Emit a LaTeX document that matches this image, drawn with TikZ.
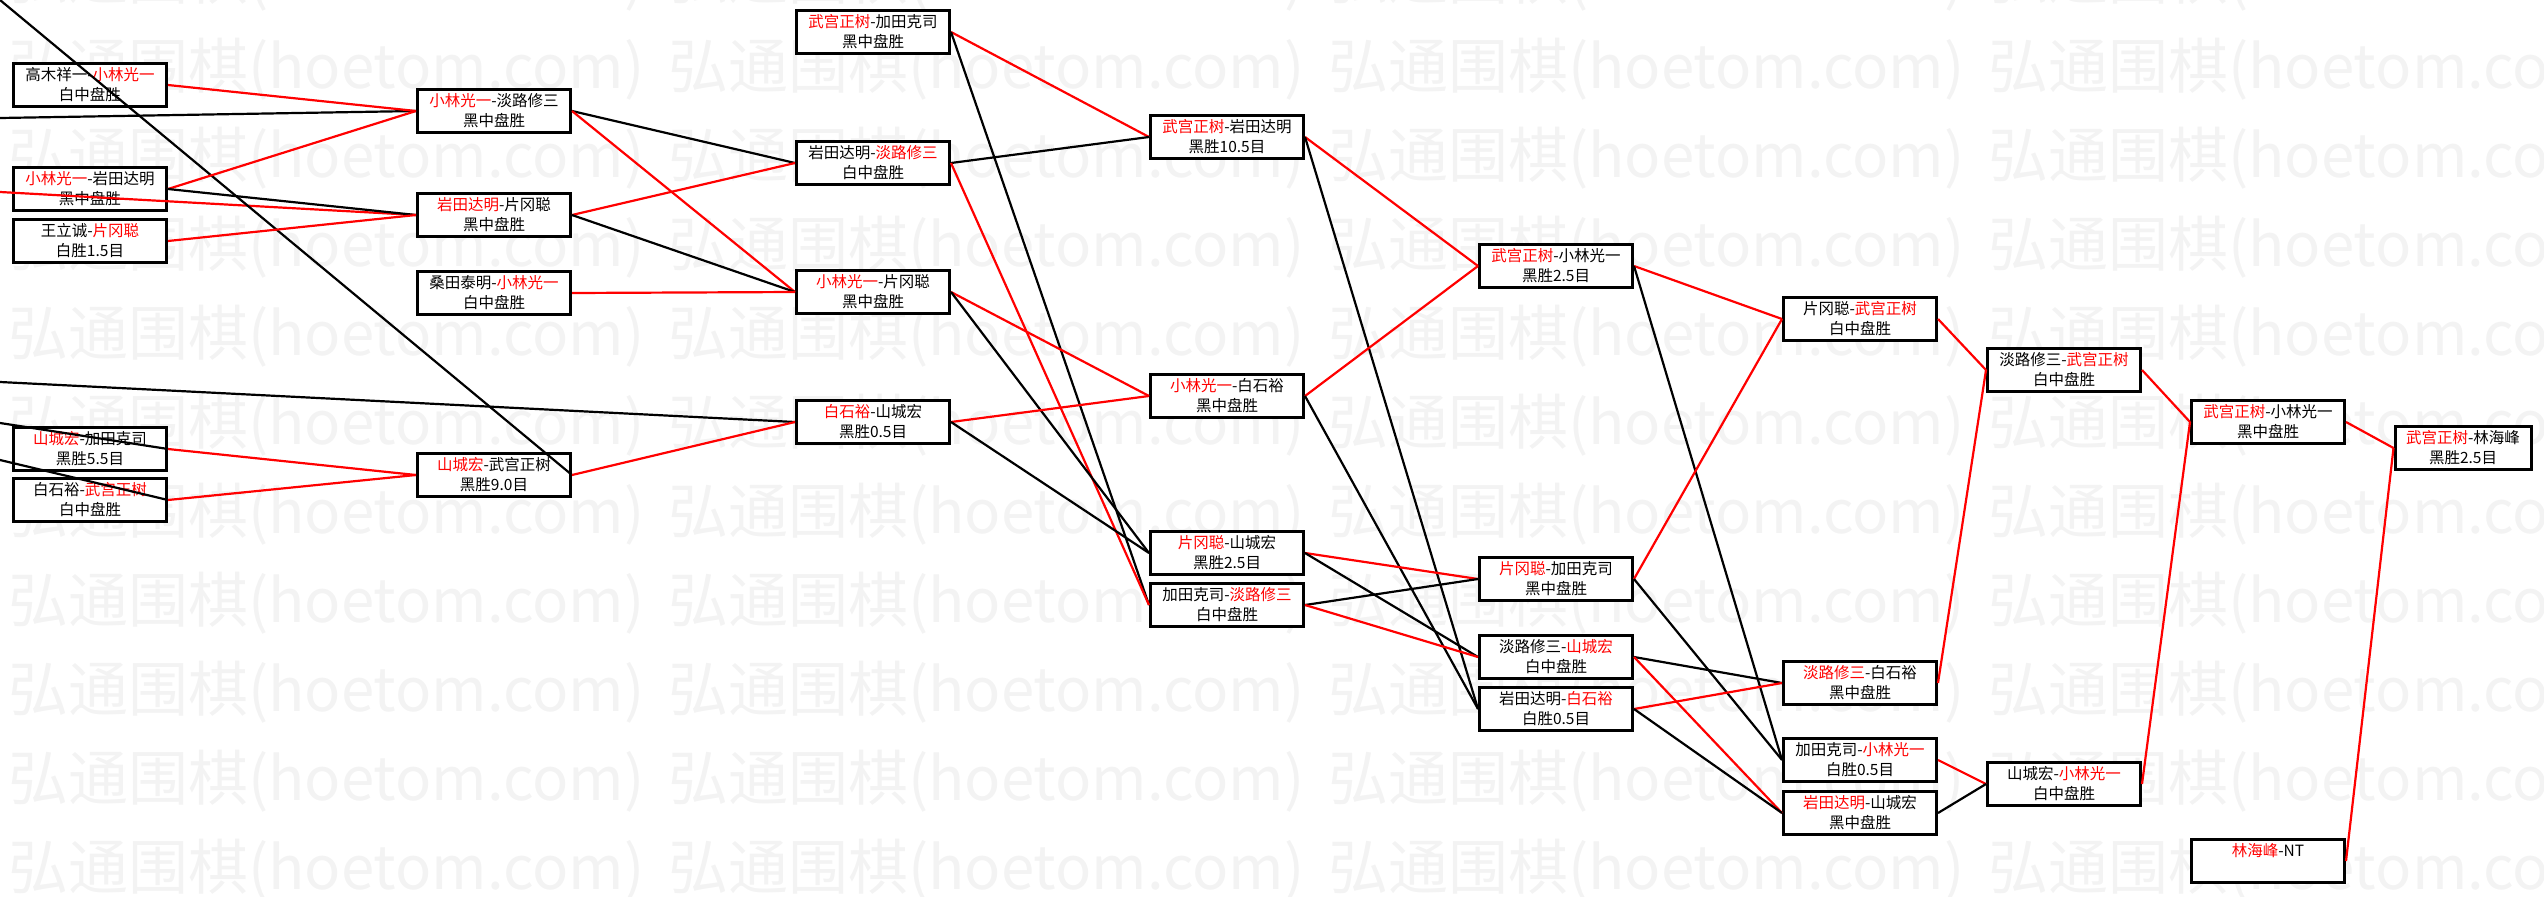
\documentclass[tikz,border=0pt]{standalone}
\usepackage{fontspec}
\setmainfont{Noto Sans CJK SC}
\tikzset{
  >=latex,
}
\definecolor{wmgray}{RGB}{243,243,243}
\newcommand{\wn}[1]{\textcolor{red}{#1}}
\tikzstyle{game}=[draw,fill=white,line width=3pt,minimum width=153pt,minimum height=43pt,inner sep=0pt,align=center,font=\fontsize{15.5}{20}\selectfont]
\tikzstyle{win}=[red,line width=2.2pt]
\tikzstyle{loss}=[black,line width=2.2pt]
\tikzstyle{wmark}=[wmgray,anchor=west,inner sep=0pt,font=\fontsize{60}{60}\selectfont]

\begin{document}
\begin{tikzpicture}[x=1pt,y=-1pt]
    \useasboundingbox (0,0) rectangle (2544,897);
    \begin{scope}
      \clip (0,0) rectangle (2544,897);
      \foreach \y in {-20,69,...,870}
        \foreach \x in {8,668,...,1988}
          \node[wmark] (wm-\x-\y) at (\x,\y) {弘通围棋(hoetom.com)};
    \end{scope}
    % round 1
    \node[game] (a1) at (90,85) {高木祥一-\wn{小林光一}\\白中盘胜};
    \node[game] (a2) at (90,189) {\wn{小林光一}-岩田达明\\黑中盘胜};
    \node[game] (a3) at (90,241) {王立诚-\wn{片冈聪}\\白胜1.5目};
    \node[game] (a4) at (90,449) {\wn{山城宏}-加田克司\\黑胜5.5目};
    \node[game] (a5) at (90,500) {白石裕-\wn{武宫正树}\\白中盘胜};
    % round 2
    \node[game] (b1) at (494,111) {\wn{小林光一}-淡路修三\\黑中盘胜};
    \node[game] (b2) at (494,215) {\wn{岩田达明}-片冈聪\\黑中盘胜};
    \node[game] (b3) at (494,293) {桑田泰明-\wn{小林光一}\\白中盘胜};
    \node[game] (b4) at (494,475) {\wn{山城宏}-武宫正树\\黑胜9.0目};
    % round 3
    \node[game] (c1) at (873,32) {\wn{武宫正树}-加田克司\\黑中盘胜};
    \node[game] (c2) at (873,163) {岩田达明-\wn{淡路修三}\\白中盘胜};
    \node[game] (c3) at (873,292) {\wn{小林光一}-片冈聪\\黑中盘胜};
    \node[game] (c4) at (873,422) {\wn{白石裕}-山城宏\\黑胜0.5目};
    % round 4
    \node[game] (d1) at (1227,137) {\wn{武宫正树}-岩田达明\\黑胜10.5目};
    \node[game] (d2) at (1227,396) {\wn{小林光一}-白石裕\\黑中盘胜};
    \node[game] (d3) at (1227,553) {\wn{片冈聪}-山城宏\\黑胜2.5目};
    \node[game] (d4) at (1227,605) {加田克司-\wn{淡路修三}\\白中盘胜};
    % round 5
    \node[game] (e1) at (1556,266) {\wn{武宫正树}-小林光一\\黑胜2.5目};
    \node[game] (e2) at (1556,579) {\wn{片冈聪}-加田克司\\黑中盘胜};
    \node[game] (e3) at (1556,657) {淡路修三-\wn{山城宏}\\白中盘胜};
    \node[game] (e4) at (1556,709) {岩田达明-\wn{白石裕}\\白胜0.5目};
    % round 6
    \node[game] (f1) at (1860,319) {片冈聪-\wn{武宫正树}\\白中盘胜};
    \node[game] (f2) at (1860,683) {\wn{淡路修三}-白石裕\\黑中盘胜};
    \node[game] (f3) at (1860,760) {加田克司-\wn{小林光一}\\白胜0.5目};
    \node[game] (f4) at (1860,813) {\wn{岩田达明}-山城宏\\黑中盘胜};
    % final rounds
    \node[game] (g1) at (2064,370) {淡路修三-\wn{武宫正树}\\白中盘胜};
    \node[game] (g2) at (2064,784) {山城宏-\wn{小林光一}\\白中盘胜};
    \node[game] (h1) at (2268,422) {\wn{武宫正树}-小林光一\\黑中盘胜};
    \node[game] (h2) at (2268,861) {\wn{林海峰}-NT\\\phantom{黑}};
    \node[game,minimum width=136pt] (i1) at (2463,448) {\wn{武宫正树}-林海峰\\黑胜2.5目};
    % lines coming in from the left
    \coordinate (l1) at (0,118);
    \coordinate (l2) at (0,192);
    \coordinate (l3) at (0,382);
    \coordinate (l4) at (0,423);
    \coordinate (l5) at (0,460);
    \coordinate (l6) at (0,0);
    \draw[loss] (l1)--(b1.west);
    \draw[win] (l2)--(b2.west);
    \draw[loss] (l3)--(c4.west);
    \draw[loss] (l4)--(a4.east);
    \draw[loss] (l5)--(a5.east);
    \draw[loss] (l6)--(b4.east);
    \draw[win] (a1.east)--(b1.west);
    \draw[win] (a2.east)--(b1.west);
    \draw[loss] (a2.east)--(b2.west);
    \draw[win] (a3.east)--(b2.west);
    \draw[win] (a4.east)--(b4.west);
    \draw[win] (a5.east)--(b4.west);
    \draw[loss] (b1.east)--(c2.west);
    \draw[win] (b1.east)--(c3.west);
    \draw[win] (b2.east)--(c2.west);
    \draw[loss] (b2.east)--(c3.west);
    \draw[win] (b3.east)--(c3.west);
    \draw[win] (b4.east)--(c4.west);
    \draw[win] (c1.east)--(d1.west);
    \draw[loss] (c1.east)--(d4.west);
    \draw[loss] (c2.east)--(d1.west);
    \draw[win] (c2.east)--(d4.west);
    \draw[win] (c3.east)--(d2.west);
    \draw[loss] (c3.east)--(d3.west);
    \draw[win] (c4.east)--(d2.west);
    \draw[loss] (c4.east)--(d3.west);
    \draw[win] (d1.east)--(e1.west);
    \draw[loss] (d1.east)--(e4.west);
    \draw[win] (d2.east)--(e1.west);
    \draw[loss] (d2.east)--(e4.west);
    \draw[win] (d3.east)--(e2.west);
    \draw[loss] (d3.east)--(e3.west);
    \draw[loss] (d4.east)--(e2.west);
    \draw[win] (d4.east)--(e3.west);
    \draw[win] (e1.east)--(f1.west);
    \draw[loss] (e1.east)--(f3.west);
    \draw[win] (e2.east)--(f1.west);
    \draw[loss] (e2.east)--(f3.west);
    \draw[loss] (e3.east)--(f2.west);
    \draw[win] (e3.east)--(f4.west);
    \draw[win] (e4.east)--(f2.west);
    \draw[loss] (e4.east)--(f4.west);
    \draw[win] (f1.east)--(g1.west);
    \draw[win] (f2.east)--(g1.west);
    \draw[win] (f3.east)--(g2.west);
    \draw[loss] (f4.east)--(g2.west);
    \draw[win] (g1.east)--(h1.west);
    \draw[win] (g2.east)--(h1.west);
    \draw[win] (h1.east)--(i1.west);
    \draw[win] (h2.east)--(i1.west);
  \end{tikzpicture}
\end{document}
